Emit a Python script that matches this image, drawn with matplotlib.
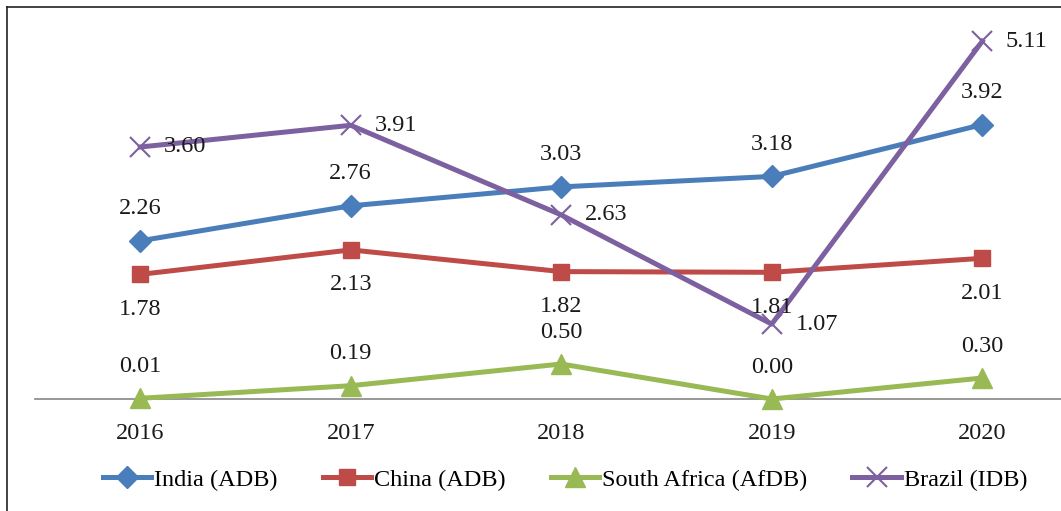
import matplotlib
matplotlib.use('Agg')
import matplotlib.pyplot as plt
from matplotlib.lines import Line2D

plt.rcParams['font.family'] = ['Liberation Serif', 'DejaVu Serif']

# --- datos ---
years = ['2016', '2017', '2018', '2019', '2020']
india = [2.26, 2.76, 3.03, 3.18, 3.92]
china = [1.78, 2.13, 1.82, 1.81, 2.01]
south_africa = [0.01, 0.19, 0.50, 0.00, 0.30]
brazil = [3.60, 3.91, 2.63, 1.07, 5.11]

x = range(len(years))

fig = plt.figure(figsize=(10.61, 5.11), dpi=100)
# el área del gráfico sigue más allá del borde derecho de la imagen
ax = fig.add_axes([35 / 1061, 112 / 511, 1052.5 / 1061, 385 / 511])

series = [
    (india, 'India (ADB)', '#4A7EBB', 'D', 11.5, (0, 23), 'center'),
    (china, 'China (ADB)', '#BE4B48', 's', 12, (0, -25), 'center'),
    (south_africa, 'South Africa (AfDB)', '#98B954', '^', 14, (0, 23), 'center'),
    (brazil, 'Brazil (IDB)', '#7D60A0', 'x', 14, (17, 0), 'left'),
]

handles = []
for vals, name, color, mk, ms, off, ha in series:
    mew = 1.5 if mk == 'x' else 1
    ln, = ax.plot(x, vals, color=color, lw=3.6, marker=mk, markersize=ms,
                  markeredgewidth=mew, clip_on=False, label=name, zorder=3)
    handles.append(ln)
    for xi, v in zip(x, vals):
        ax.annotate(f'{v:.2f}', (xi, v), xytext=off, textcoords='offset points',
                    ha=ha, va='center', fontsize=17.5, color='#1a1a1a', zorder=5)

ax.set_xlim(-0.5, 4.5)
ax.set_ylim(0, 5.5)
ax.set_xticks(list(x))
ax.set_xticklabels(years, fontsize=17.5, color='#1a1a1a')
ax.tick_params(axis='x', length=0, pad=17)
ax.set_yticks([])
for side in ['top', 'right', 'left']:
    ax.spines[side].set_visible(False)
ax.spines['bottom'].set_color('#868686')
ax.spines['bottom'].set_linewidth(1.2)
ax.spines['bottom'].set_zorder(2)

fig.legend(handles=handles, loc='center', bbox_to_anchor=(565 / 1061, 1 - 480 / 511),
           ncol=4, frameon=False, fontsize=17.5, handlelength=2.0,
           handletextpad=0.12, columnspacing=1.85)

# borde del gráfico
fig.add_artist(Line2D([7 / 1061, 1.0], [1 - 7 / 511, 1 - 7 / 511],
                      color='#222222', lw=1.2, transform=fig.transFigure))
fig.add_artist(Line2D([7 / 1061, 7 / 1061], [0, 1 - 7 / 511],
                      color='#222222', lw=1.2, transform=fig.transFigure))

fig.savefig('out.png', dpi=100)
